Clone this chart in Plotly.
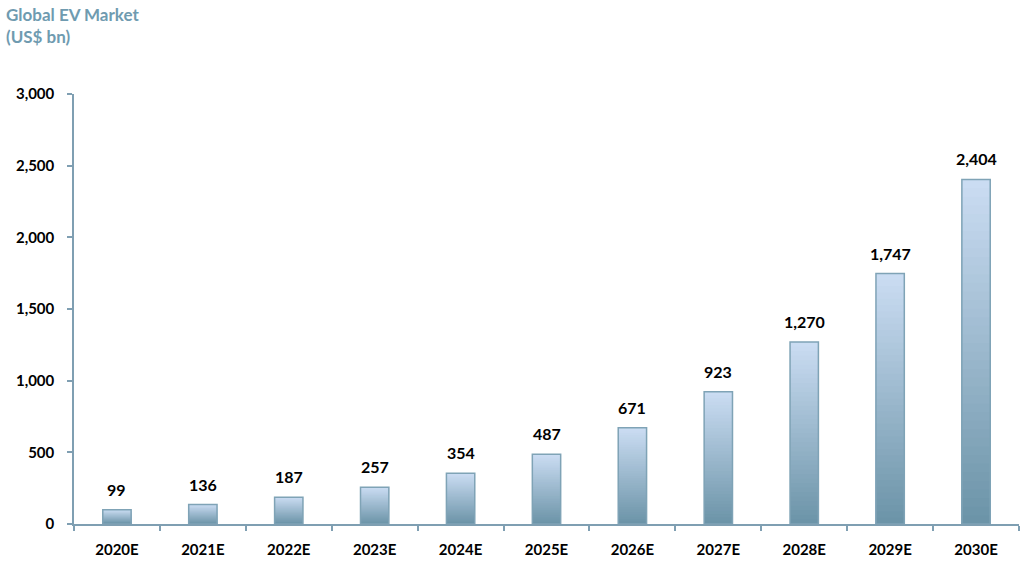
import plotly.graph_objects as go

YEARS = ["2020E", "2021E", "2022E", "2023E", "2024E", "2025E",
         "2026E", "2027E", "2028E", "2029E", "2030E"]
MARKET_BN = [99, 136, 187, 257, 354, 487, 671, 923, 1270, 1747, 2404]

TITLE_LINES = ["Global EV Market", "(US$ bn)"]
Y_TICKS = [0, 500, 1000, 1500, 2000, 2500, 3000]

FONT = "Lato"
TOP_RGB = (202, 220, 242)
BOTTOM_RGB = (108, 148, 168)
STEPS = 40
AXIS_COLOR = "#7f9fb2"
BAR_WIDTH = 0.33


def blend(t):
    r, g, b = (round(a + (c - a) * t) for a, c in zip(TOP_RGB, BOTTOM_RGB))
    return f"rgb({r},{g},{b})"


def build_chart():
    fig = go.Figure()

    # Bars have no gradient fill, so overlay shrinking copies, light to dark
    for k in range(STEPS):
        frac = (STEPS - k) / STEPS
        fig.add_trace(go.Bar(
            x=YEARS,
            y=[v * frac for v in MARKET_BN],
            width=BAR_WIDTH,
            marker={"color": blend(k / (STEPS - 1)), "line": {"width": 0}},
            hoverinfo="skip",
            showlegend=False,
        ))

    fig.add_trace(go.Bar(
        x=YEARS,
        y=MARKET_BN,
        width=BAR_WIDTH,
        marker={"color": "rgba(0,0,0,0)",
                "line": {"color": "#7fa3b6", "width": 1.5}},
        hovertemplate="%{x}: US$ %{y:,} bn<extra></extra>",
        showlegend=False,
    ))

    # value labels sit a little higher than plotly's "outside" text
    for year, value in zip(YEARS, MARKET_BN):
        fig.add_annotation(
            x=year, y=value, text=f"{value:,}", showarrow=False,
            yanchor="bottom", yshift=9,
            font={"family": FONT, "size": 16, "color": "black", "weight": "bold"},
        )

    for line, ypos in zip(TITLE_LINES, [1.186, 1.133]):
        fig.add_annotation(
            text=line, xref="paper", yref="paper", x=-0.074, y=ypos,
            xanchor="left", yanchor="middle", showarrow=False,
            font={"family": FONT, "size": 17, "color": "#6f9bb0", "weight": "bold"},
        )

    fig.update_layout(
        width=1024,
        height=566,
        barmode="overlay",
        margin={"l": 74, "r": 5, "t": 94, "b": 42},
        paper_bgcolor="white",
        plot_bgcolor="white",
        font={"family": FONT, "size": 15, "color": "black"},
        xaxis={
            "type": "category",
            "showline": True,
            "linecolor": AXIS_COLOR,
            "linewidth": 1.5,
            "ticks": "outside",
            "tickson": "boundaries",
            "ticklen": 5,
            "tickcolor": AXIS_COLOR,
            "tickwidth": 1.5,
            "ticklabelstandoff": 11,
            "tickfont": {"family": FONT, "size": 15, "color": "black", "weight": "bold"},
            "showgrid": False,
        },
        yaxis={
            "range": [0, 3000],
            "tickvals": Y_TICKS,
            "tickformat": ",",
            "showline": True,
            "linecolor": AXIS_COLOR,
            "linewidth": 1.5,
            "ticks": "outside",
            "ticklen": 5,
            "tickcolor": AXIS_COLOR,
            "tickwidth": 1.5,
            "ticklabelstandoff": 10,
            "tickfont": {"family": FONT, "size": 15, "color": "black", "weight": "bold"},
            "showgrid": False,
            "zeroline": False,
        },
    )
    return fig


def main():
    fig = build_chart()
    fig.write_html(
        "out.html",
        config={"displayModeBar": False},
        post_script="document.body.style.margin = '0';",
    )


if __name__ == "__main__":
    main()
